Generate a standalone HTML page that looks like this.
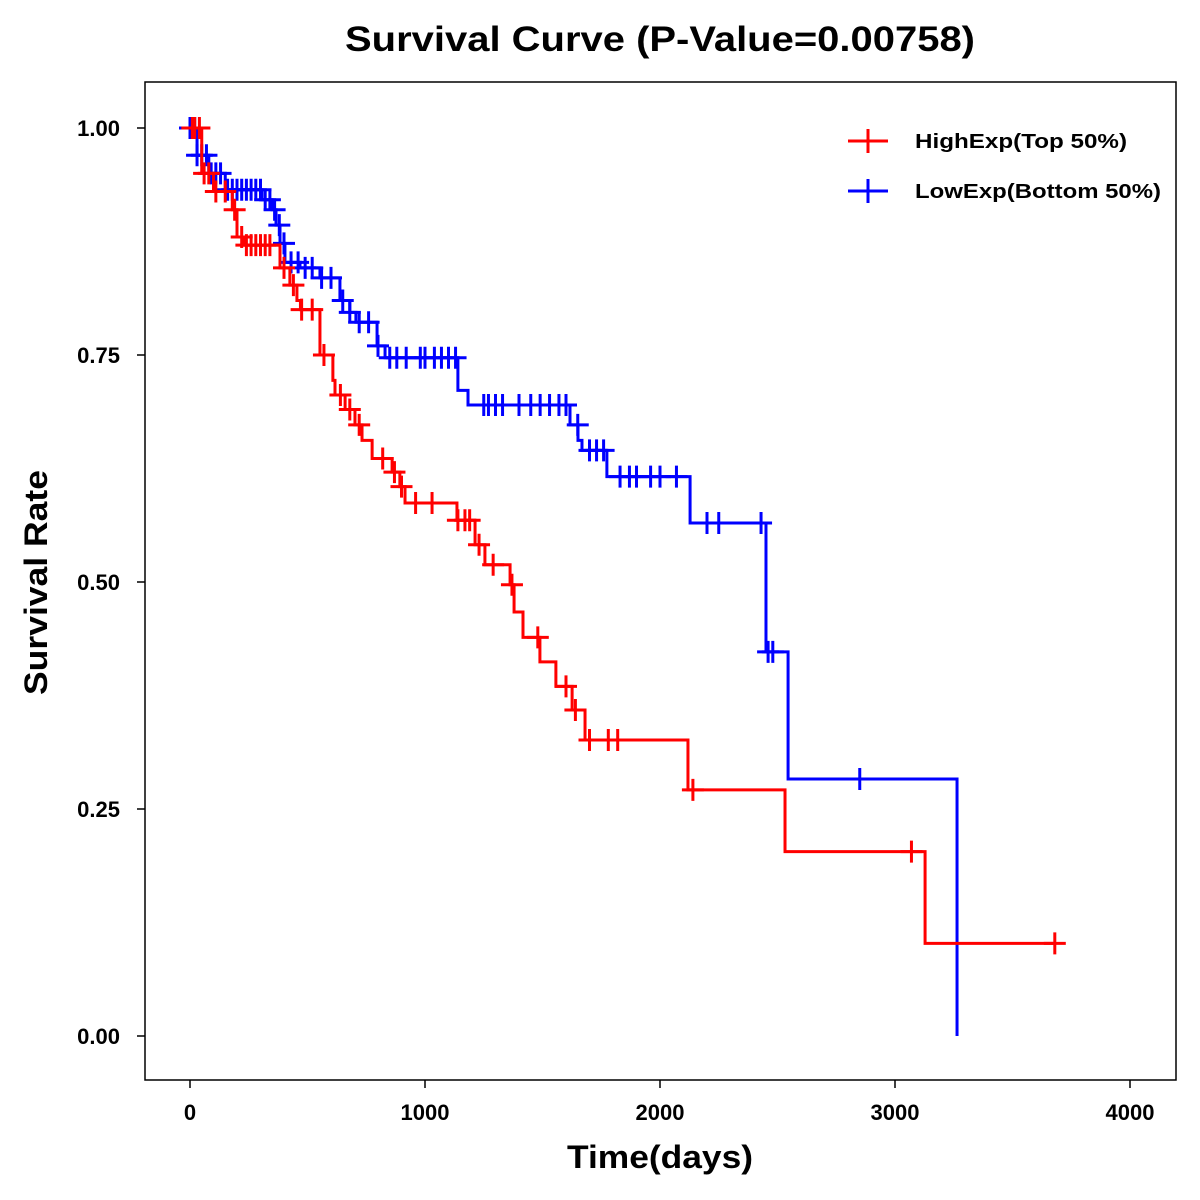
<!DOCTYPE html>
<html><head><meta charset="utf-8"><style>
body{margin:0;background:#fff}
svg{display:block}
text{font-family:"Liberation Sans",Arial,sans-serif;font-weight:bold;fill:#000}
</style></head><body>
<svg id="chart" width="1200" height="1200" viewBox="0 0 1200 1200">
<rect x="0" y="0" width="1200" height="1200" fill="#fff"/>
<text x="345" y="51" font-size="35" textLength="630" lengthAdjust="spacingAndGlyphs">Survival Curve (P-Value=0.00758)</text>
<rect x="145" y="82" width="1031" height="998" fill="none" stroke="#000" stroke-width="1.5"/>
<g id="xaxis"></g>
<g id="yaxis"></g>
<text x="567" y="1168" font-size="32" textLength="186" lengthAdjust="spacingAndGlyphs">Time(days)</text>
<text transform="translate(47,695) rotate(-90)" font-size="32" textLength="225" lengthAdjust="spacingAndGlyphs">Survival Rate</text>
<g id="series"></g>
<g>
  <g>
    <line x1="848" y1="141" x2="888" y2="141" stroke="#f00" stroke-width="3"/>
    <line x1="868" y1="129" x2="868" y2="153" stroke="#f00" stroke-width="3"/>
    <text x="915" y="148" font-size="20" textLength="212" lengthAdjust="spacingAndGlyphs">HighExp(Top 50%)</text>
  </g>
  <g>
    <line x1="848" y1="191" x2="888" y2="191" stroke="#00f" stroke-width="3"/>
    <line x1="868" y1="179" x2="868" y2="203" stroke="#00f" stroke-width="3"/>
    <text x="915" y="198" font-size="20" textLength="246" lengthAdjust="spacingAndGlyphs">LowExp(Bottom 50%)</text>
  </g>
</g>
</svg>
<script>
const xTicks=[0,1000,2000,3000,4000];
const yTicks=[0,0.25,0.5,0.75,1.0];
const yTickLabels=["0.00","0.25","0.50","0.75","1.00"];
const highTimes=[0,50,100,180,200,230,383,425,455,470,553,608,617,660,702,732,775,860,893,915,1136,1213,1255,1362,1379,1417,1489,1557,1626,1681,2119,2532,3128,3680];
const highSurv=[1.0,0.95,0.93,0.91,0.88,0.871,0.846,0.827,0.81,0.80,0.75,0.722,0.706,0.69,0.673,0.656,0.636,0.621,0.605,0.587,0.568,0.541,0.519,0.497,0.467,0.439,0.412,0.385,0.359,0.326,0.271,0.203,0.102,0.102];
const highCensor=[10,20,40,60,80,110,150,190,220,240,260,280,300,320,340,400,440,475,520,570,640,680,720,820,870,900,960,1030,1140,1170,1190,1230,1290,1370,1480,1600,1640,1700,1780,1820,2140,3070,3680];
const lowTimes=[0,30,80,150,306,349,366,383,404,468,553,638,680,706,796,830,1140,1183,1617,1651,1668,1774,2128,2451,2545,3264];
const lowSurv=[1.0,0.97,0.95,0.932,0.921,0.91,0.893,0.873,0.852,0.846,0.835,0.81,0.797,0.786,0.76,0.747,0.711,0.695,0.673,0.656,0.645,0.616,0.565,0.423,0.283,0.0];
const lowCensor=[0,10,20,30,50,70,90,110,130,160,180,200,220,240,260,280,300,320,340,360,380,400,430,460,490,520,560,600,650,680,720,760,800,850,880,920,980,1000,1040,1070,1100,1130,1250,1270,1300,1330,1400,1450,1490,1530,1570,1600,1650,1700,1730,1760,1830,1870,1900,1960,2000,2070,2200,2250,2430,2460,2480,2850];
const X=d=>190+d*0.235;
const Y=s=>1036-s*908;
const NS="http://www.w3.org/2000/svg";
function mk(tag,attrs,parent){const e=document.createElementNS(NS,tag);for(const k in attrs)e.setAttribute(k,attrs[k]);parent.appendChild(e);return e;}
const xa=document.getElementById('xaxis'),ya=document.getElementById('yaxis');
xTicks.forEach(t=>{
  const l=mk('line',{x1:X(t),x2:X(t),y1:1080,y2:1088,stroke:'#000','stroke-width':1.5},xa);
  
  
  const tx=mk('text',{x:X(t),y:1120,'font-size':22,'text-anchor':'middle'},xa);
  tx.textContent=t;
  
  
});
yTicks.forEach((t,i)=>{
  const l=mk('line',{x1:137,x2:145,y1:Y(t),y2:Y(t),stroke:'#000','stroke-width':1.5},ya);
  
  
  const tx=mk('text',{x:120,y:Y(t)+8,'font-size':22,'text-anchor':'end'},ya);
  tx.textContent=yTickLabels[i];
  
  
});
function survAt(times,surv,t){let s=surv[0];for(let i=0;i<times.length;i++){if(times[i]<=t)s=surv[i];}return s;}
function draw(times,surv,cens,color,name){
  const g=mk('g',{},document.getElementById('series'));
  
  
  let d='M'+X(times[0])+','+Y(surv[0]);
  for(let i=1;i<times.length;i++){d+=' H'+X(times[i])+' V'+Y(surv[i]);}
  const p=mk('path',{d:d,fill:'none',stroke:color,'stroke-width':3},g);
  
  
  cens.forEach(t=>{
    const s=survAt(times,surv,t),cx=X(t),cy=Y(s);
    const c=mk('path',{d:`M${cx-11},${cy}H${cx+11}M${cx},${cy-11}V${cy+11}`,stroke:color,'stroke-width':3,fill:'none'},g);
    
    
  });
}
draw(lowTimes,lowSurv,lowCensor,'#00f','lowexp-series');
draw(highTimes,highSurv,highCensor,'#f00','highexp-series');
</script>
</body></html>
